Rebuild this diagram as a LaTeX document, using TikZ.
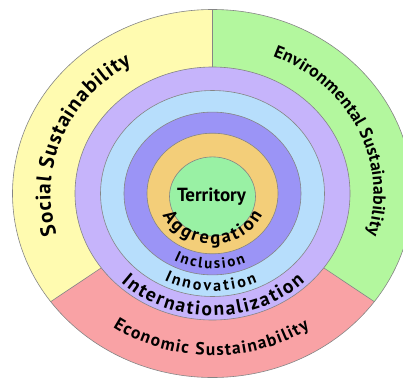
\documentclass[tikz,border=0pt]{standalone}
\usepackage{fontspec}
\setmainfont{PT Sans}
\usepackage{tikz}
\usetikzlibrary{decorations.text}
\usetikzlibrary{positioning}
\definecolor{socialyellow}{HTML}{FFFBB0}
\definecolor{envgreen}{HTML}{B3F79E}
\definecolor{econpink}{HTML}{F9A2A5}
\definecolor{interlilac}{HTML}{C6B4FB}
\definecolor{innoblue}{HTML}{B7DEFC}
\definecolor{inclviolet}{HTML}{9B94F6}
\definecolor{aggrorange}{HTML}{F3CE79}
\definecolor{terrgreen}{HTML}{99F1A4}
\definecolor{edgegray}{HTML}{858585}
\tikzset{
	ringline/.style={
			draw=edgegray, line width=0.6pt},
	ringlabel/.style 2 args={
			decorate, decoration={text along path, text align={fit to path},
			text={|\bfseries\fontsize{#1}{#1}\selectfont|#2}}},
		}
\begin{document}
\begin{tikzpicture} [x=1pt, y=1pt]

		\useasboundingbox (-212.5,-186.5) rectangle (190.5,193.5);
		\clip (-212.5,-186.5) rectangle (190.5,193.5);

%		outer sectors
		\fill[socialyellow] (0,0) -- (90:200 and 184) arc[start angle=90, end angle=216, x radius=200, y radius=184] -- cycle;
		\fill[econpink] (0,0) -- (216:200 and 184) arc[start angle=216, end angle=324, x radius=200, y radius=184] -- cycle;
		\fill[envgreen] (0,0) -- (324:200 and 184) arc[start angle=324, end angle=450, x radius=200, y radius=184] -- cycle;
		\draw[ringline] (0,0) ellipse[x radius=200, y radius=184];
		\foreach \a in {90,216,324}
			\draw[ringline] (\a:137.5 and 126.5) -- (\a:200 and 184);

%		inner rings
		\foreach \rx/\ry/\col in {137.5/126.5/interlilac, 112/103/innoblue, 88.5/81.4/inclviolet, 65.5/60.3/aggrorange}
			\filldraw[ringline, fill=\col] (0,0) ellipse[x radius=\rx, y radius=\ry];
		\filldraw[ringline, fill=terrgreen] (0,-3) ellipse[x radius=43, y radius=39.6];

		\node[font=\bfseries\fontsize{19}{19}\selectfont] (territory) at (-1,-3.5) {Territory};

%		labels along the rings
		\path[ringlabel={18.5}{Aggregation}] (205:55 and 50.6) arc[start angle=205, end angle=335, x radius=55, y radius=50.6];
		\path[ringlabel={15}{Inclusion}] (242:82 and 75.4) arc[start angle=242, end angle=294, x radius=82, y radius=75.4];
		\path[ringlabel={16}{Innovation}] (243:106 and 97.5) arc[start angle=243, end angle=295, x radius=106, y radius=97.5];
		\path[ringlabel={19.5}{Internationalization}] (226.5:133 and 122.4) arc[start angle=226.5, end angle=314, x radius=133, y radius=122.4];
		\path[ringlabel={17.5}{Economic Sustainability}] (235.5:176 and 162) arc[start angle=235.5, end angle=303.5, x radius=176, y radius=162];
		\path[ringlabel={21}{Social Sustainability}] (196:162 and 149) arc[start angle=196, end angle=120, x radius=162, y radius=149];
		\path[ringlabel={17.5}{Environmental Sustainability}] (68:161 and 148) arc[start angle=68, end angle=-16, x radius=161, y radius=148];
%
	 	\end{tikzpicture}
\end{document}
